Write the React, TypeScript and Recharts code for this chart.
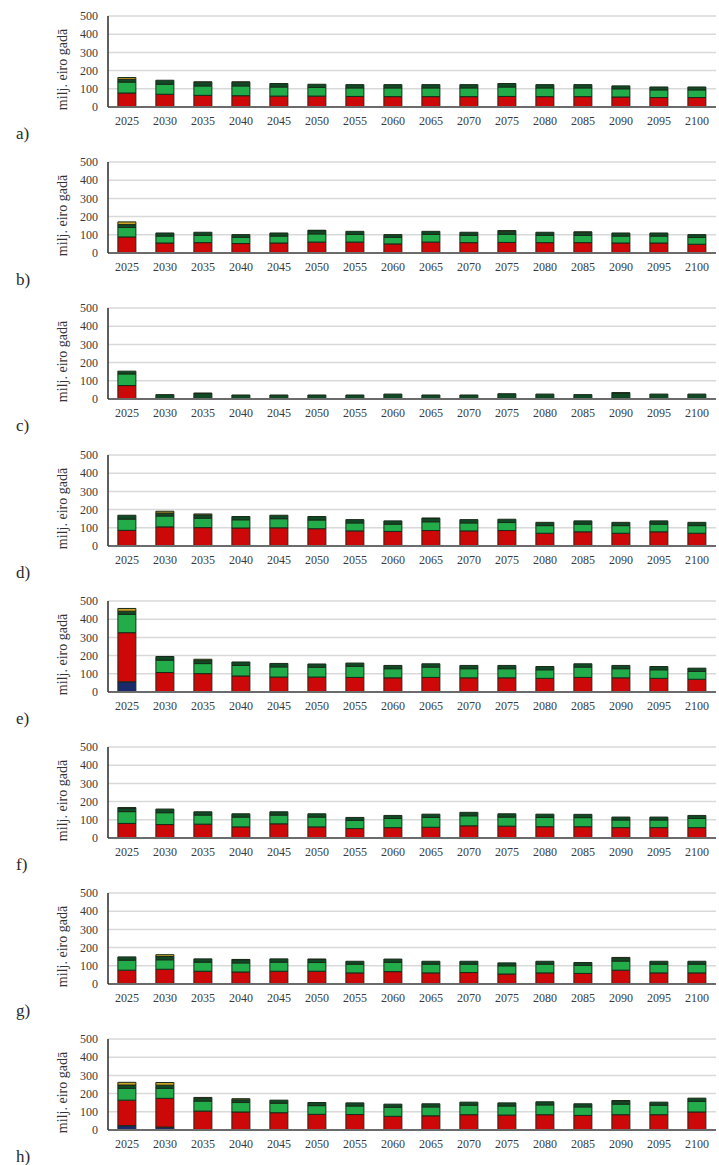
import React from 'react';
import { BarChart, Bar, XAxis, YAxis, CartesianGrid } from 'recharts';

const YEARS = ['2025','2030','2035','2040','2045','2050','2055','2060','2065','2070','2075','2080','2085','2090','2095','2100'];
const Y_TICKS = [0, 100, 200, 300, 400, 500];
const Y_LABEL = 'milj. eiro gadā';

// a)
const aRed = [77,70,64,62,60,60,58,57,57,57,58,57,57,55,52,52];
const aGreen = [60,55,52,54,50,47,47,48,48,48,52,48,48,45,42,42];
const aDark = [15,22,20,20,19,18,18,18,18,18,19,18,18,16,16,16];
const aYellow = [10,0,2,2,0,0,0,0,0,0,0,0,0,0,0,0];
// b)
const bRed = [88,55,57,52,55,60,60,50,60,57,58,57,57,55,55,48];
const bGreen = [52,38,40,34,38,45,42,36,42,40,45,40,40,38,38,37];
const bDark = [16,17,17,15,17,18,17,15,17,17,17,17,17,17,17,16];
const bYellow = [15,0,0,0,0,2,0,0,0,0,3,0,2,0,0,0];
// c)
const cRed = [74,0,0,0,0,0,0,0,0,0,0,0,0,0,0,0];
const cGreen = [64,0,0,0,0,0,0,0,0,0,0,0,0,0,0,0];
const cDark = [15,24,30,22,22,22,22,27,22,22,29,27,24,33,27,27];
const cYellow = [0,0,3,0,0,0,0,0,0,0,0,0,0,2,0,0];
// d)
const dRed = [86,105,101,99,100,95,83,80,85,83,85,70,78,70,78,70];
const dGreen = [62,60,52,45,50,48,44,40,48,44,44,42,42,42,42,42];
const dDark = [21,16,18,18,19,19,18,18,18,18,18,18,18,18,18,18];
const dYellow = [0,10,5,0,0,0,0,0,3,0,0,0,0,0,0,0];
// e)
const eNavy = [56,0,0,0,0,0,0,0,0,0,0,0,0,0,0,0];
const eRed = [270,107,101,88,82,82,80,78,80,78,78,75,80,78,75,70];
const eGreen = [100,68,55,58,56,54,61,50,57,50,50,47,57,50,47,43];
const eDark = [18,20,18,19,19,18,18,18,18,18,18,18,18,18,18,18];
const eYellow = [15,0,6,0,0,0,0,0,0,0,0,0,0,0,0,0];
// f)
const fRed = [80,74,76,61,78,61,52,57,59,67,65,62,62,57,57,57];
const fGreen = [65,65,50,54,48,54,45,50,54,55,50,51,50,42,42,50];
const fDark = [20,20,18,18,18,18,16,17,18,19,18,18,18,16,16,17];
const fYellow = [2,0,0,0,0,0,0,0,0,0,0,0,0,0,0,0];
// g)
const gRed = [76,81,70,66,70,70,61,68,61,63,55,61,58,76,61,61];
const gGreen = [55,52,50,50,50,48,48,51,48,46,45,48,44,50,48,48];
const gDark = [18,18,18,17,18,17,16,18,16,16,16,16,16,16,16,16];
const gYellow = [0,10,0,2,0,2,0,0,0,0,0,0,0,4,0,0];
// h)
const hNavy = [24,16,0,0,0,0,0,0,0,0,0,0,0,0,0,0];
const hRed = [140,158,104,99,95,86,85,75,78,84,82,84,80,84,84,99];
const hGreen = [65,55,55,52,52,48,47,50,49,52,50,54,47,58,52,58];
const hDark = [18,17,16,15,17,17,17,17,17,17,17,17,17,17,17,18];
const hYellow = [15,15,4,6,0,0,0,0,0,0,0,0,0,3,0,0];

const ZERO = YEARS.map(() => 0);

const PANELS = [
  { letter: 'a)', navy: ZERO, red: aRed, green: aGreen, dark: aDark, yellow: aYellow },
  { letter: 'b)', navy: ZERO, red: bRed, green: bGreen, dark: bDark, yellow: bYellow },
  { letter: 'c)', navy: ZERO, red: cRed, green: cGreen, dark: cDark, yellow: cYellow },
  { letter: 'd)', navy: ZERO, red: dRed, green: dGreen, dark: dDark, yellow: dYellow },
  { letter: 'e)', navy: eNavy, red: eRed, green: eGreen, dark: eDark, yellow: eYellow },
  { letter: 'f)', navy: ZERO, red: fRed, green: fGreen, dark: fDark, yellow: fYellow },
  { letter: 'g)', navy: ZERO, red: gRed, green: gGreen, dark: gDark, yellow: gYellow },
  { letter: 'h)', navy: hNavy, red: hRed, green: hGreen, dark: hDark, yellow: hYellow },
];

const COLORS = {
  navy: '#1b2a6b',
  red: '#cc0808',
  green: '#22ad4a',
  dark: '#0f4a24',
  yellow: '#c9a227',
};
const BAR_STROKE = '#1a2a1a';
const FONT = 'Liberation Serif, Times New Roman, serif';
const TEXT_STYLE = { fontFamily: FONT };

const YLabelContent = (props: any) => {
  const vb = props.viewBox || {};
  const x = 67;
  const y = (vb.y || 0) + (vb.height || 0) / 2 + 8;
  return (
    <text
      x={x}
      y={y}
      transform={`rotate(-90, ${x}, ${y})`}
      textAnchor="middle"
      style={{ fontFamily: FONT, fontSize: 14 }}
      fill="#333"
    >
      {Y_LABEL}
    </text>
  );
};

const Panel = ({ p }: { p: any }) => {
  const data = YEARS.map((year, i) => ({
    year,
    navy: p.navy[i],
    red: p.red[i],
    green: p.green[i],
    dark: p.dark[i],
    yellow: p.yellow[i],
  }));
  const keys = ['navy', 'red', 'green', 'dark', 'yellow'];
  return (
    <BarChart
      width={719}
      height={131}
      data={data}
      margin={{ top: 10, right: 3, left: 48, bottom: 0 }}
      barCategoryGap="26%"
    >
      <CartesianGrid vertical={false} stroke="#d9d9d9" strokeWidth={1.5} />
      <XAxis
        dataKey="year"
        interval={0}
        tickLine={false}
        tickSize={0}
        tickMargin={9}
        axisLine={{ stroke: '#6b6b6b', strokeWidth: 2 }}
        tick={{ fontSize: 12, fill: '#3a3a3a', style: TEXT_STYLE }}
        height={30}
      />
      <YAxis
        domain={[0, 500]}
        ticks={Y_TICKS}
        interval={0}
        width={60}
        tickLine={false}
        tickSize={0}
        tickMargin={10}
        axisLine={{ stroke: '#2a2a2a', strokeWidth: 1.5 }}
        tick={{ fontSize: 12, fill: '#3a3a3a', style: TEXT_STYLE }}
        label={<YLabelContent />}
      />
      {keys.map((k) => (
        <Bar
          key={k}
          dataKey={k}
          stackId="s"
          fill={(COLORS as any)[k]}
          stroke={BAR_STROKE}
          strokeWidth={1}
          isAnimationActive={false}
        />
      ))}
    </BarChart>
  );
};

export default function App() {
  return (
    <div style={{ position: 'absolute', left: 0, top: 0, width: 719, height: 1165, background: '#fff' }}>
      {PANELS.map((p, i) => {
        const plotTop = 16 + 146.2 * i;
        return (
          <React.Fragment key={p.letter}>
            <div style={{ position: 'absolute', left: 0, top: Math.round(plotTop - 10) }}>
              <Panel p={p} />
            </div>
            <div
              style={{
                position: 'absolute',
                left: 16,
                top: Math.round(plotTop + 108),
                fontFamily: FONT,
                fontSize: 17,
                color: '#2a2a2a',
                lineHeight: '20px',
              }}
            >
              {p.letter}
            </div>
          </React.Fragment>
        );
      })}
    </div>
  );
}
